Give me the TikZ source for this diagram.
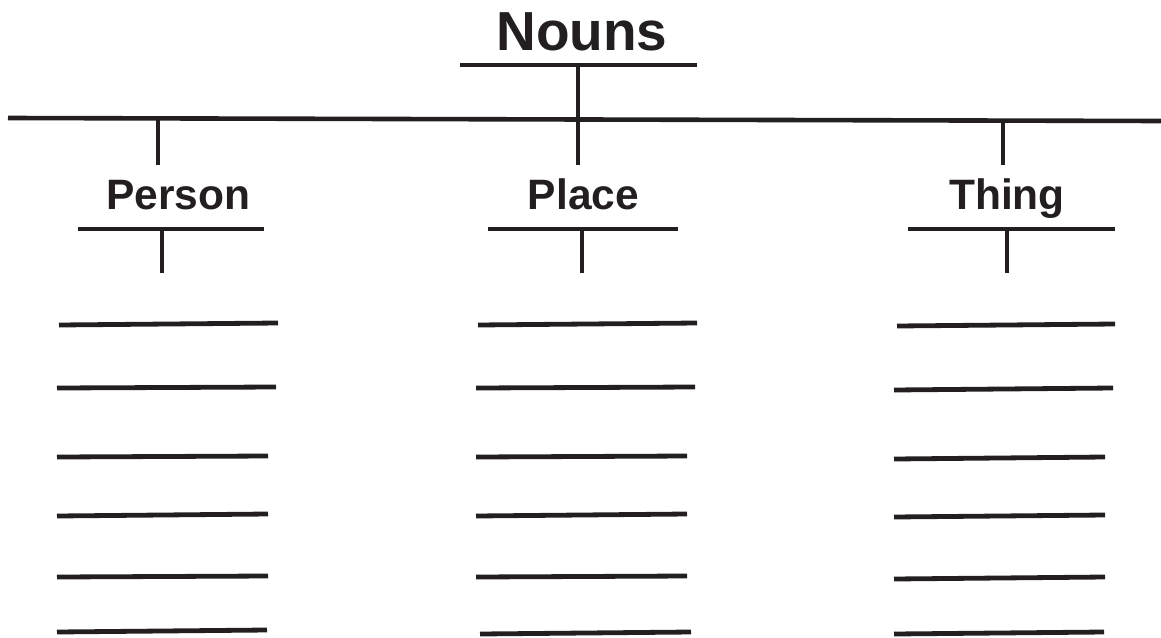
\documentclass[tikz,border=0pt]{standalone}
\usepackage{fontspec}
\setmainfont{Liberation Sans}
\definecolor{ink}{HTML}{231F20}
\begin{document}
\begin{tikzpicture}[x=1pt,y=-1pt,
  rule/.style={draw=ink,line width=4.6pt,line cap=butt},
  blank/.style={draw=ink,line width=4.8pt,line cap=butt},
  title/.style={anchor=base,text=ink,font=\fontsize{55}{60}\selectfont\bfseries,inner sep=0pt},
  cat/.style={anchor=base,text=ink,font=\fontsize{42.5}{46}\selectfont\bfseries,inner sep=0pt}]
\useasboundingbox (0,0) rectangle (1161,637);
% titles
\node[title] (nouns) at (582,50) {Nouns};
\node[cat] (person) at (178.5,209) {Person};
\node[cat] (place) at (583.5,209) {Place};
\node[cat] (thing) at (1007,209) {Thing};
% top structure
\coordinate (nl) at (460,65); \coordinate (nr) at (697,65);
\coordinate (nv) at (578,65); \coordinate (nvb) at (578,165);
\coordinate (ml) at (8,118); \coordinate (mr) at (1161,121);
\coordinate (pv) at (158,119); \coordinate (pvb) at (158,165);
\coordinate (tv) at (1003,121); \coordinate (tvb) at (1003,165);
\draw[rule] (nl) -- (nr);
\draw[rule] (nv) -- (nvb);
\draw[rule] (ml) -- (mr);
\draw[rule] (pv) -- (pvb);
\draw[rule] (tv) -- (tvb);
% category underlines
\coordinate (pl) at (78,229); \coordinate (pr) at (264,229);
\coordinate (pc) at (162,229); \coordinate (pcb) at (162,273);
\coordinate (ql) at (488,229); \coordinate (qr) at (678,229);
\coordinate (qc) at (582,229); \coordinate (qcb) at (582,273);
\coordinate (tl) at (908,229); \coordinate (tr) at (1115,229);
\coordinate (tc) at (1007,229); \coordinate (tcb) at (1007,273);
\draw[rule] (pl) -- (pr); \draw[rule] (pc) -- (pcb);
\draw[rule] (ql) -- (qr); \draw[rule] (qc) -- (qcb);
\draw[rule] (tl) -- (tr); \draw[rule] (tc) -- (tcb);
% blank lines: person
\coordinate (a1) at (59,325); \coordinate (b1) at (278,323);
\coordinate (a2) at (57,388); \coordinate (b2) at (276,387);
\coordinate (a3) at (57,457); \coordinate (b3) at (268,456);
\coordinate (a4) at (57,516); \coordinate (b4) at (268,514);
\coordinate (a5) at (57,577); \coordinate (b5) at (268,576);
\coordinate (a6) at (57,632); \coordinate (b6) at (267,630);
% place
\coordinate (c1) at (478,325); \coordinate (d1) at (697,323);
\coordinate (c2) at (476,388); \coordinate (d2) at (695,387);
\coordinate (c3) at (476,457); \coordinate (d3) at (687,456);
\coordinate (c4) at (476,516); \coordinate (d4) at (687,514);
\coordinate (c5) at (476,577); \coordinate (d5) at (687,576);
\coordinate (c6) at (480,634); \coordinate (d6) at (691,632);
% thing
\coordinate (e1) at (897,326); \coordinate (f1) at (1115,324);
\coordinate (e2) at (894,390); \coordinate (f2) at (1113,388);
\coordinate (e3) at (894,459); \coordinate (f3) at (1105,457);
\coordinate (e4) at (894,517); \coordinate (f4) at (1105,515);
\coordinate (e5) at (894,579); \coordinate (f5) at (1105,577);
\coordinate (e6) at (894,634); \coordinate (f6) at (1104,632);
\foreach \i in {1,...,6}{
  \draw[blank] (a\i) -- (b\i);
  \draw[blank] (c\i) -- (d\i);
  \draw[blank] (e\i) -- (f\i);
}
\end{tikzpicture}
\end{document}
